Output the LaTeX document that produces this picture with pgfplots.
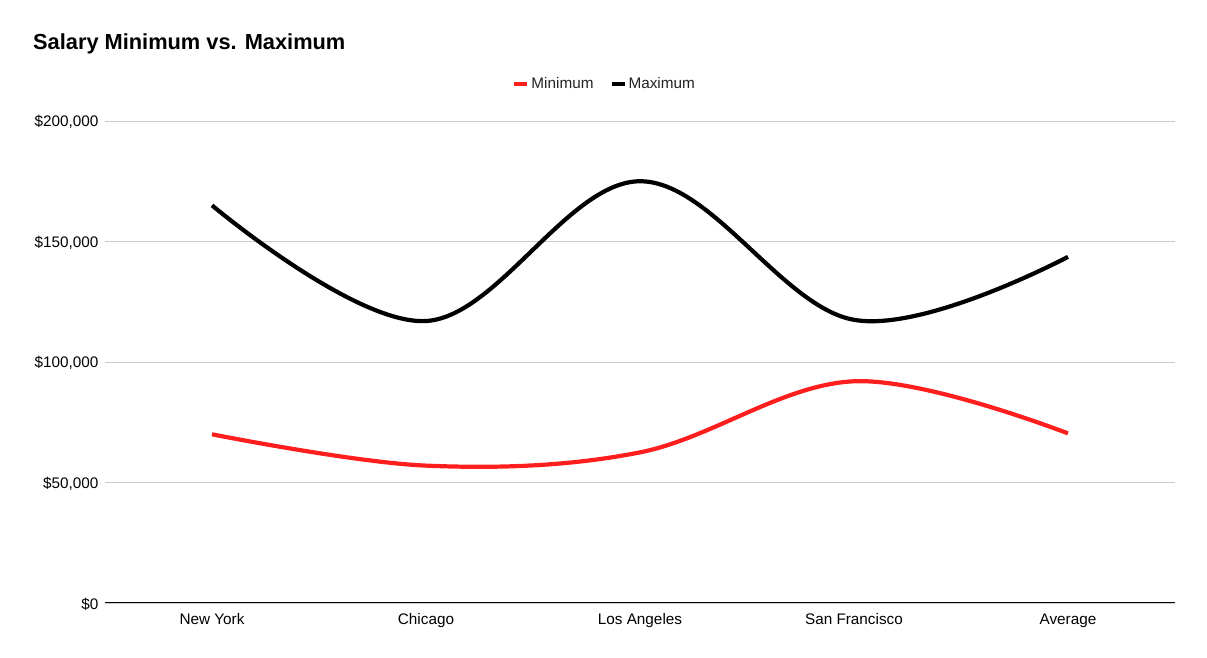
\documentclass[border=0pt]{standalone}
\usepackage{pgfplots}
\pgfplotsset{compat=1.18}
\usepackage{fontspec}
\setmainfont{Liberation Sans}
\definecolor{minred}{RGB}{255,30,30}
\definecolor{gridgray}{RGB}{204,204,204}
\definecolor{txt}{RGB}{34,34,34}
\begin{document}
\begin{tikzpicture}
% page frame, 1 px = 1 pt
\path (0pt,0pt) rectangle (1207pt,658pt);
\node[anchor=base west, inner sep=0pt, font=\fontsize{21.8}{25}\selectfont\bfseries] at (33pt,608pt) {Salary Minimum vs. Maximum};
\begin{axis}[
    at={(105pt,55pt)},
    anchor=south west,
    scale only axis,
    width=1070pt,
    height=482pt,
    xmin=-0.5, xmax=4.5,
    ymin=0, ymax=200000,
    xtick={0,1,2,3,4},
    xticklabels={New York, Chicago, Los Angeles, San Francisco, Average},
    ytick={0,50000,100000,150000,200000},
    yticklabels={{\$0},{\$50,000},{\$100,000},{\$150,000},{\$200,000}},
    scaled y ticks=false,
    major tick length=0pt,
    tick label style={font=\fontsize{15.3}{18}\selectfont, text=black},
    yticklabel style={xshift=-3pt, yshift=-1pt},
    xticklabel style={yshift=-7pt},
    axis x line*=bottom,
    axis y line*=left,
    axis line style={-},
    x axis line style={black, line width=1pt},
    y axis line style={draw=none},
    ymajorgrids,
    grid style={gridgray, line width=0.9pt},
    legend style={at={(0.467,1.077)}, anchor=center, draw=none, fill=none,
        legend columns=2, font=\fontsize{15.3}{18}\selectfont\color{txt},
        /tikz/every even column/.append style={column sep=14pt}},
    legend image code/.code={\draw[#1, line width=4pt] (-6pt,0pt) -- (7pt,0pt);},
]
\addplot[minred, line width=4.2pt, smooth, tension=0.6] coordinates {
    (0,70000) (1,57000) (2,62500) (3,92000) (4,70375)
};
\addlegendentry{Minimum}
\addplot[black, line width=4.2pt, smooth, tension=0.6] coordinates {
    (0,165000) (1,117000) (2,175000) (3,117500) (4,143625)
};
\addlegendentry{Maximum}
\end{axis}
\end{tikzpicture}
\end{document}
